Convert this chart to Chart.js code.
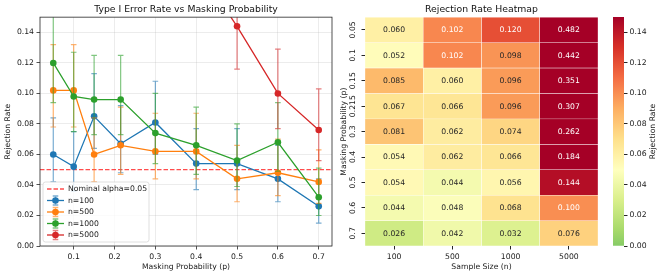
<!DOCTYPE html>
<html>
<head>
<meta charset="utf-8">
<script src="https://cdn.jsdelivr.net/npm/chart.js@4.4.1/dist/chart.umd.min.js"></script>
<style>
  html, body { margin: 0; padding: 0; background: #fff; }
  #wrap { position: relative; width: 664px; height: 276px; overflow: hidden; }
  canvas { position: absolute; top: 0; }
</style>
</head>
<body>
<div id="wrap">
  <canvas id="lines" width="340" height="276" style="left:0"></canvas>
  <canvas id="heat" width="264" height="276" style="left:336px"></canvas>
  <canvas id="cbar" width="64" height="276" style="left:600px"></canvas>
</div>
<script>
// masking probabilities and sample sizes
const maskProbs = [0.05, 0.1, 0.15, 0.215, 0.3, 0.4, 0.5, 0.6, 0.7]
const sampleSizes = ['100', '500', '1000', '5000']

// rejection rate for each sample size, one value per masking probability
const rate100 = [0.060, 0.052, 0.085, 0.067, 0.081, 0.054, 0.054, 0.044, 0.026]
const rate500 = [0.102, 0.102, 0.060, 0.066, 0.062, 0.062, 0.044, 0.048, 0.042]
const rate1000 = [0.120, 0.098, 0.096, 0.096, 0.074, 0.066, 0.056, 0.068, 0.032]
const rate5000 = [0.482, 0.442, 0.351, 0.307, 0.262, 0.184, 0.144, 0.100, 0.076]

// error bar ends
const low100 = [0.042, 0.036, 0.064, 0.048, 0.060, 0.037, 0.037, 0.029, 0.015]
const high100 = [0.084, 0.075, 0.113, 0.092, 0.108, 0.077, 0.077, 0.066, 0.044]
const low500 = [0.078, 0.078, 0.042, 0.047, 0.044, 0.044, 0.029, 0.033, 0.028]
const high500 = [0.132, 0.132, 0.084, 0.091, 0.087, 0.087, 0.066, 0.070, 0.063]
const low1000 = [0.094, 0.075, 0.073, 0.073, 0.054, 0.047, 0.039, 0.049, 0.020]
const high1000 = [0.151, 0.127, 0.125, 0.125, 0.100, 0.091, 0.080, 0.094, 0.051]
const low5000 = [0.439, 0.399, 0.310, 0.268, 0.225, 0.153, 0.116, 0.077, 0.056]
const high5000 = [0.526, 0.486, 0.394, 0.349, 0.302, 0.220, 0.178, 0.129, 0.103]

const nominalAlpha = 0.05

// axis ticks
const xTicks = [0.1, 0.2, 0.3, 0.4, 0.5, 0.6, 0.7]
const yTicks = [0, 0.02, 0.04, 0.06, 0.08, 0.10, 0.12, 0.14]
const cbarTicks = [0, 0.02, 0.04, 0.06, 0.08, 0.10, 0.12, 0.14]
const xRange = [0.0175, 0.7325]

const seriesColors = ['#1f77b4', '#ff7f0e', '#2ca02c', '#d62728']
const seriesRates = [rate100, rate500, rate1000, rate5000]
const seriesLow = [low100, low500, low1000, low5000]
const seriesHigh = [high100, high500, high1000, high5000]

Chart.defaults.font.family = "'DejaVu Sans', sans-serif"
Chart.defaults.font.size = 7.7
Chart.defaults.color = '#1a1a1a'

// RdYlGn_r, centred on 0.05 like seaborn does it
const cmapStops = ['#006837', '#1a9850', '#66bd63', '#a6d96a', '#d9ef8b', '#ffffbf',
  '#fee08b', '#fdae61', '#f46d43', '#d73027', '#a50026']
const colorMin = 0
const colorMax = 0.15
const colorCenter = 0.05

function hexRgb (h) {
  return [1, 3, 5].map(i => parseInt(h.slice(i, i + 2), 16))
}

function rgbFor (v) {
  const half = Math.max(colorMax - colorCenter, colorCenter - colorMin)
  const vv = Math.min(colorMax, Math.max(colorMin, v))
  const t = (vv - (colorCenter - half)) / (2 * half)
  const pos = t * (cmapStops.length - 1)
  const i = Math.min(cmapStops.length - 2, Math.floor(pos))
  const f = pos - i
  const a = hexRgb(cmapStops[i])
  const b = hexRgb(cmapStops[i + 1])
  return a.map((c, k) => Math.round(c + (b[k] - c) * f))
}

function rateColor (v) {
  const c = rgbFor(v)
  return 'rgb(' + c.join(',') + ')'
}

function textColorFor (v) {
  const lin = rgbFor(v).map(c => {
    c /= 255
    return c <= 0.03928 ? c / 12.92 : Math.pow((c + 0.055) / 1.055, 2.4)
  })
  const lum = 0.2126 * lin[0] + 0.7152 * lin[1] + 0.0722 * lin[2]
  return lum > 0.408 ? '#262626' : '#ffffff'
}

/* ---------- left panel: line chart with error bars ---------- */

const errorBarPlugin = {
  id: 'errorBars',
  beforeDatasetDraw (chart, args) {
    const ds = chart.data.datasets[args.index]
    if (!ds.low) return
    const { ctx, chartArea, scales } = chart
    ctx.save()
    ctx.beginPath()
    ctx.rect(chartArea.left, chartArea.top, chartArea.width, chartArea.height)
    ctx.clip()
    ctx.strokeStyle = ds.borderColor
    ctx.globalAlpha = 0.6
    ctx.lineWidth = 1.2
    ds.data.forEach((pt, j) => {
      const x = scales.x.getPixelForValue(pt.x)
      const y1 = scales.y.getPixelForValue(ds.low[j])
      const y2 = scales.y.getPixelForValue(ds.high[j])
      ctx.beginPath()
      ctx.moveTo(x, y1)
      ctx.lineTo(x, y2)
      ctx.moveTo(x - 2.8, y1)
      ctx.lineTo(x + 2.8, y1)
      ctx.moveTo(x - 2.8, y2)
      ctx.lineTo(x + 2.8, y2)
      ctx.stroke()
    })
    ctx.restore()
  }
}

const framePlugin = {
  id: 'frame',
  afterDatasetsDraw (chart) {
    const { ctx, chartArea } = chart
    ctx.save()
    ctx.strokeStyle = '#262626'
    ctx.lineWidth = 0.8
    ctx.strokeRect(chartArea.left, chartArea.top, chartArea.width, chartArea.height)
    ctx.restore()
  }
}

const boxLegendPlugin = {
  id: 'boxLegend',
  afterDraw (chart) {
    const { ctx, chartArea } = chart
    const x0 = chartArea.left + 3
    const w = 106
    const h = 60
    const y0 = chartArea.bottom - 4 - h
    ctx.save()
    ctx.beginPath()
    ctx.roundRect(x0, y0, w, h, 2.5)
    ctx.fillStyle = 'rgba(255,255,255,0.8)'
    ctx.fill()
    ctx.strokeStyle = 'rgba(204,204,204,0.8)'
    ctx.lineWidth = 0.8
    ctx.stroke()

    ctx.font = "7.7px 'DejaVu Sans', sans-serif"
    ctx.textBaseline = 'middle'
    ctx.textAlign = 'left'
    chart.data.datasets.forEach((ds, i) => {
      const y = y0 + 7 + i * 11.5
      const hx0 = x0 + 4
      const hx1 = x0 + 21
      const cx = (hx0 + hx1) / 2
      ctx.save()
      ctx.strokeStyle = ds.borderColor
      ctx.lineWidth = ds.borderWidth
      if (ds.borderDash) ctx.setLineDash(ds.borderDash)
      ctx.beginPath()
      ctx.moveTo(hx0, y)
      ctx.lineTo(hx1, y)
      ctx.stroke()
      if (!ds.borderDash) {
        ctx.globalAlpha = 0.6
        ctx.beginPath()
        ctx.moveTo(cx, y - 4.5)
        ctx.lineTo(cx, y + 4.5)
        ctx.moveTo(cx - 2.8, y - 4.5)
        ctx.lineTo(cx + 2.8, y - 4.5)
        ctx.moveTo(cx - 2.8, y + 4.5)
        ctx.lineTo(cx + 2.8, y + 4.5)
        ctx.stroke()
        ctx.globalAlpha = 1
        ctx.fillStyle = ds.borderColor
        ctx.beginPath()
        ctx.arc(cx, y, ds.pointRadius, 0, Math.PI * 2)
        ctx.fill()
      }
      ctx.restore()
      ctx.fillStyle = '#1a1a1a'
      ctx.fillText(ds.label, x0 + 25, y + 0.5)
    })
    ctx.restore()
  }
}

const lineDatasets = [{
  label: 'Nominal alpha=0.05',
  data: xRange.map(x => ({ x, y: nominalAlpha })),
  borderColor: 'rgba(255,0,0,0.7)',
  borderWidth: 1.3,
  borderDash: [4.5, 2],
  pointRadius: 0,
  order: 5
}].concat(sampleSizes.map((n, i) => ({
  label: 'n=' + n,
  data: maskProbs.map((p, j) => ({ x: p, y: seriesRates[i][j] })),
  low: seriesLow[i],
  high: seriesHigh[i],
  borderColor: seriesColors[i],
  backgroundColor: seriesColors[i],
  borderWidth: 1.3,
  pointRadius: 3.3,
  pointBorderWidth: 0,
  pointHoverRadius: 3.3,
  order: 4 - i
})))

const lineChart = new Chart(document.getElementById('lines'), { // eslint-disable-line
  type: 'line',
  data: { datasets: lineDatasets },
  options: {
    responsive: false,
    animation: false,
    devicePixelRatio: 1,
    events: [],
    layout: { padding: { left: 0, right: 8, top: 0, bottom: 0 } },
    plugins: {
      legend: { display: false },
      tooltip: { enabled: false },
      title: {
        display: true,
        fullSize: false,
        text: 'Type I Error Rate vs Masking Probability',
        font: { size: 9.3, weight: 'normal' },
        color: '#111',
        padding: { top: 4.5, bottom: 1.5 }
      }
    },
    scales: {
      x: {
        type: 'linear',
        min: xRange[0],
        max: xRange[1],
        afterBuildTicks: (s) => { s.ticks = xTicks.map(v => ({ value: v })) },
        afterFit: (s) => { s.height = 30 },
        ticks: { callback: v => v.toFixed(1), padding: 2.5, maxRotation: 0 },
        grid: { color: 'rgba(176,176,176,0.3)', lineWidth: 0.8, tickColor: '#262626', tickLength: 3.5 },
        border: { display: false },
        title: { display: true, text: 'Masking Probability (p)', padding: { top: 0, bottom: 4.5 } }
      },
      y: {
        type: 'linear',
        min: 0,
        max: 0.15,
        afterBuildTicks: (s) => { s.ticks = yTicks.map(v => ({ value: v })) },
        afterFit: (s) => { s.width = 40 },
        ticks: { callback: v => v.toFixed(2), padding: 2.5 },
        grid: { color: 'rgba(176,176,176,0.3)', lineWidth: 0.8, tickColor: '#262626', tickLength: 3.5 },
        border: { display: false },
        title: { display: true, text: 'Rejection Rate', padding: { top: 3.5, bottom: 0 } }
      }
    }
  },
  plugins: [errorBarPlugin, framePlugin, boxLegendPlugin]
})

/* ---------- right panel: heatmap built from floating bars ---------- */

const heatRates = [rate100, rate500, rate1000, rate5000]

const heatDatasets = maskProbs.map((p, r) => ({
  label: String(p),
  data: sampleSizes.map(() => [r, r + 1]),
  rates: heatRates.map(s => s[r]),
  backgroundColor: (c) => rateColor(c.dataset.rates[c.dataIndex]),
  borderColor: '#ffffff',
  borderWidth: 0.5,
  borderSkipped: false,
  barPercentage: 1,
  categoryPercentage: 1,
  grouped: false
}))

const heatTextPlugin = {
  id: 'heatText',
  afterDatasetsDraw (chart) {
    const { ctx } = chart
    ctx.save()
    ctx.font = "7.7px 'DejaVu Sans', sans-serif"
    ctx.textAlign = 'center'
    ctx.textBaseline = 'middle'
    chart.data.datasets.forEach((ds, r) => {
      chart.getDatasetMeta(r).data.forEach((bar, c) => {
        const v = ds.rates[c]
        const pt = bar.getCenterPoint()
        ctx.fillStyle = textColorFor(v)
        ctx.fillText(v.toFixed(3), pt.x, pt.y + 0.5)
      })
    })
    ctx.restore()
  }
}

// chart.js does not rotate y tick labels, so draw them here
const rotatedYLabels = {
  id: 'rotatedYLabels',
  afterDraw (chart) {
    const { ctx, chartArea } = chart
    const ys = chart.scales.y
    ctx.save()
    ctx.font = "7.7px 'DejaVu Sans', sans-serif"
    ctx.fillStyle = '#1a1a1a'
    ctx.textAlign = 'center'
    ctx.textBaseline = 'middle'
    ys.ticks.forEach((t, i) => {
      const y = ys.getPixelForValue(t.value)
      ctx.save()
      ctx.translate(chartArea.left - 11.5, y)
      ctx.rotate(-Math.PI / 2)
      ctx.fillText(String(maskProbs[i]), 0, 0)
      ctx.restore()
    })
    ctx.restore()
  }
}

const heatChart = new Chart(document.getElementById('heat'), { // eslint-disable-line
  type: 'bar',
  data: { labels: sampleSizes, datasets: heatDatasets },
  options: {
    responsive: false,
    animation: false,
    devicePixelRatio: 1,
    events: [],
    layout: { padding: { left: 0, right: 2, top: 0, bottom: 0 } },
    plugins: {
      legend: { display: false },
      tooltip: { enabled: false },
      title: {
        display: true,
        fullSize: false,
        text: 'Rejection Rate Heatmap',
        font: { size: 9.3, weight: 'normal' },
        color: '#111',
        padding: { top: 4.5, bottom: 1.5 }
      }
    },
    scales: {
      x: {
        type: 'category',
        offset: true,
        afterFit: (s) => { s.height = 30 },
        ticks: { padding: 2.5, maxRotation: 0 },
        grid: { display: true, drawOnChartArea: false, offset: false, tickColor: '#262626', tickLength: 3.5 },
        border: { display: false },
        title: { display: true, text: 'Sample Size (n)', padding: { top: 0, bottom: 4.5 } }
      },
      y: {
        type: 'linear',
        min: 0,
        max: maskProbs.length,
        reverse: true,
        afterBuildTicks: (s) => { s.ticks = maskProbs.map((p, i) => ({ value: i + 0.5 })) },
        afterFit: (s) => { s.width = 29 },
        ticks: { display: false },
        grid: { display: true, drawOnChartArea: false, tickColor: '#262626', tickLength: 3.5 },
        border: { display: false },
        title: { display: true, text: 'Masking Probability (p)', padding: { top: 3, bottom: 0 } }
      }
    }
  },
  plugins: [heatTextPlugin, rotatedYLabels]
})

/* ---------- colour bar ---------- */

const cbarLabelPlugin = {
  id: 'cbarLabel',
  afterDraw (chart) {
    const { ctx, chartArea } = chart
    ctx.save()
    ctx.font = "7.7px 'DejaVu Sans', sans-serif"
    ctx.fillStyle = '#1a1a1a'
    ctx.textAlign = 'center'
    ctx.textBaseline = 'middle'
    ctx.translate(53, (chartArea.top + chartArea.bottom) / 2)
    ctx.rotate(-Math.PI / 2)
    ctx.fillText('Rejection Rate', 0, 0)
    ctx.restore()
  }
}

function cbarGradient (c) {
  const area = c.chart.chartArea
  if (!area) return rateColor(colorMin)
  const g = c.chart.ctx.createLinearGradient(0, area.bottom, 0, area.top)
  for (let k = 0; k <= 30; k++) {
    const f = k / 30
    g.addColorStop(f, rateColor(colorMin + (colorMax - colorMin) * f))
  }
  return g
}

const cbarChart = new Chart(document.getElementById('cbar'), { // eslint-disable-line
  type: 'bar',
  data: {
    labels: [''],
    datasets: [{
      data: [[colorMin, colorMax]],
      backgroundColor: cbarGradient,
      borderWidth: 0,
      barPercentage: 1,
      categoryPercentage: 1
    }]
  },
  options: {
    responsive: false,
    animation: false,
    devicePixelRatio: 1,
    events: [],
    layout: { padding: { left: 13, right: 0, top: 17, bottom: 30 } },
    plugins: { legend: { display: false }, tooltip: { enabled: false } },
    scales: {
      x: { display: false },
      y: {
        position: 'right',
        min: colorMin,
        max: colorMax,
        afterBuildTicks: (s) => { s.ticks = cbarTicks.map(v => ({ value: v })) },
        afterFit: (s) => { s.width = 40 },
        ticks: { callback: v => v.toFixed(2), padding: 2 },
        grid: { display: true, drawOnChartArea: false, tickColor: '#262626', tickLength: 3.5 },
        border: { display: false }
      }
    }
  },
  plugins: [cbarLabelPlugin]
})
</script>
</body>
</html>
